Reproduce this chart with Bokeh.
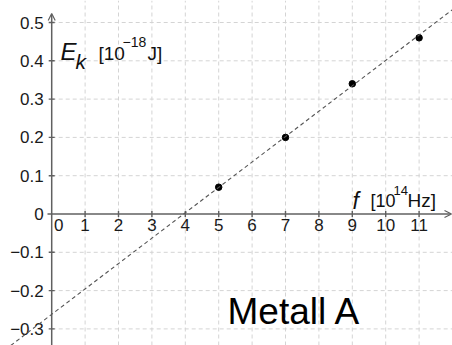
from bokeh.plotting import figure
from bokeh.models import Range1d, Slope, Arrow, OpenHead, Label
from bokeh.core.properties import value
from bokeh.embed import file_html
from bokeh.resources import INLINE

# ---- data ----
x_ticks = [0, 1, 2, 3, 4, 5, 6, 7, 8, 9, 10, 11]
x_tick_labels = ["0", "1", "2", "3", "4", "5", "6", "7", "8", "9", "10", "11"]
y_ticks = [-0.3, -0.2, -0.1, 0.0, 0.1, 0.2, 0.3, 0.4, 0.5]
y_tick_labels = ["\u22120.3", "\u22120.2", "\u22120.1", "0", "0.1", "0.2", "0.3", "0.4", "0.5"]
f_values = [5, 7, 9, 11]              # frequency [10^14 Hz]
ek_values = [0.07, 0.20, 0.34, 0.46]  # kinetic energy [10^-18 J]
fit_gradient = 0.0663
fit_intercept = -0.262
title_text = "Metall A"

# ---- pixel calibration of the reference (px -> data) ----
X0, UX = 51.2, 33.4
Y0, UY = 213.5, 383.0
def dx(px):
    return (px - X0) / UX
def dy(py):
    return (Y0 - py) / UY

W, H = 452, 345
x_min, x_max = dx(0), dx(W)
y_min, y_max = dy(H), dy(0)

p = figure(width=W, height=H, x_range=Range1d(x_min, x_max), y_range=Range1d(y_min, y_max),
           x_axis_type=None, y_axis_type=None, output_backend="svg", toolbar_location=None,
           min_border=0)
p.outline_line_color = None
p.background_fill_color = "white"
p.border_fill_color = "white"

FONT = "Liberation Sans"
GRID = "#d4d4d4"
AXIS = "#606060"
TXT = "#1a1a1a"

# grid (only right of the y axis)
vx = [t for t in x_ticks if t != 0] + [12]
p.segment(x0=vx, y0=[y_min] * len(vx), x1=vx, y1=[y_max] * len(vx),
          line_color=GRID, line_width=1, line_dash="4 3")
hy = [t for t in y_ticks if t != 0]
p.segment(x0=[0] * len(hy), y0=hy, x1=[x_max] * len(hy), y1=hy,
          line_color=GRID, line_width=1, line_dash="4 3")

# axes with arrow heads
p.add_layout(Arrow(end=OpenHead(size=7, line_color=AXIS, line_width=1.2),
                   x_start=dx(47), y_start=0, x_end=dx(451), y_end=0,
                   line_color=AXIS, line_width=1.5))
p.add_layout(Arrow(end=OpenHead(size=7, line_color=AXIS, line_width=1.2),
                   x_start=0, y_start=y_min, x_end=0, y_end=dy(13),
                   line_color=AXIS, line_width=1.5))

# tick marks
xt = [t for t in x_ticks if t != 0]
p.scatter(x=xt, y=[0] * len(xt), marker="dash", angle=1.5708, size=6,
          line_color=AXIS, line_width=1.4)
yt = [t for t in y_ticks if t != 0]
p.scatter(x=[0] * len(yt), y=yt, marker="dash", size=6, line_color=AXIS, line_width=1.4)

# tick labels
p.text(x=x_ticks[1:], y=[0] * (len(x_ticks) - 1), text=x_tick_labels[1:],
       text_font=value(FONT), text_align="center", text_baseline="top",
       y_offset=5, text_font_size="17px", text_color=TXT)
p.text(x=x_ticks[:1], y=[0], text=x_tick_labels[:1],
       text_font=value(FONT), text_align="center", text_baseline="top",
       x_offset=7, y_offset=5, text_font_size="17px", text_color=TXT)
p.text(x=[0] * len(y_ticks), y=y_ticks, text=y_tick_labels,
       text_font=value(FONT), text_align="right", text_baseline="middle",
       x_offset=-8, text_font_size="17px", text_color=TXT)

# fit line and measured points
p.add_layout(Slope(gradient=fit_gradient, y_intercept=fit_intercept,
                   line_color="#555555", line_width=1.1, line_dash="4 3"))
p.scatter(x=f_values, y=ek_values, size=6.5, fill_color="black", line_color="black")

# axis titles
def lab(txt, px, py, size, style="normal"):
    p.add_layout(Label(x=dx(px), y=dy(py), text=txt, text_font=FONT,
                       text_font_size=size, text_font_style=style,
                       text_baseline="alphabetic", text_color="#111111"))

lab("E", 60, 51, "24px", "italic")
lab("k", 75, 61, "21px", "italic")
lab("[10", 98, 53, "19px")
lab("\u221218", 122, 41, "14px")
lab("J]", 147, 53, "19px")

lab("f", 352, 200, "23px", "italic")
lab("[10", 370, 200, "18px")
lab("14", 393, 190, "13px")
lab("Hz]", 407, 200, "19px")

# big title
p.add_layout(Label(x=dx(227), y=dy(311), text=title_text, text_font=FONT,
                   text_font_size="37px", text_baseline="alphabetic", text_color="#000000"))

open("out.html", "w").write(file_html(p, INLINE))
